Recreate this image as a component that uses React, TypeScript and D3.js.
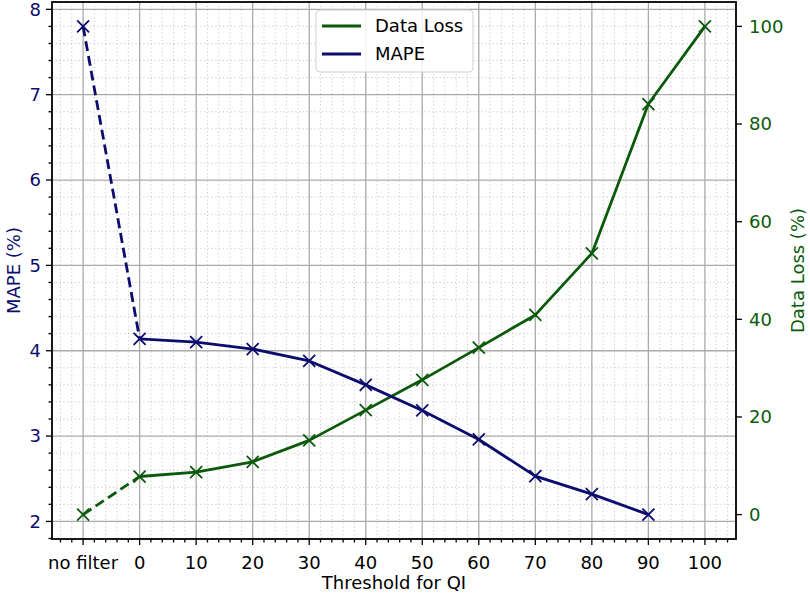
import React, { useEffect, useRef } from 'react'
import * as d3 from 'd3'

const categories = ['no filter', '0', '10', '20', '30', '40', '50', '60', '70', '80', '90', '100']
const mapeValues = [7.8, 4.14, 4.1, 4.02, 3.88, 3.6, 3.3, 2.96, 2.53, 2.32, 2.08]
const dataLossValues = [0, 7.8, 8.7, 10.8, 15.2, 21.4, 27.6, 34.2, 40.9, 53.5, 84.1, 100]
const leftTicks = [2, 3, 4, 5, 6, 7, 8]
const rightTicks = [0, 20, 40, 60, 80, 100]

const MAPE_COLOR = '#0c0c6e'
const LOSS_COLOR = '#0b5a0b'

const App: React.FC = () => {
    const svgRef = useRef<SVGSVGElement | null>(null)

    useEffect(() => {
        document.body.style.margin = '0'
        if (!svgRef.current) return
        const width = 810
        const height = 598
        const left = 52
        const right = 736
        const top = 2
        const bottom = 539

        const svg = d3.select(svgRef.current).attr('width', width).attr('height', height)
        svg.selectAll('*').remove()

        // matplotlib-like 5% margins
        const pad = (lo: number, hi: number): [number, number] => {
            const m = (hi - lo) * 0.05
            return [lo - m, hi + m]
        }
        const x = d3.scaleLinear().domain(pad(0, categories.length - 1)).range([left, right])
        const yL = d3.scaleLinear().domain(pad(d3.min(mapeValues)!, d3.max(mapeValues)!)).range([bottom, top])
        const yR = d3.scaleLinear().domain(pad(d3.min(dataLossValues)!, d3.max(dataLossValues)!)).range([bottom, top])

        const font = 'DejaVu Sans, sans-serif'
        const fs = 18

        // minor grid (0.2 steps)
        const xMinor = d3.range(-0.4, 11.5, 0.2).map((v) => Math.round(v * 10) / 10)
        const yMinor = d3.range(1.8, 8.09, 0.2).map((v) => Math.round(v * 10) / 10)
        const isMajor = (v: number) => Math.abs(v - Math.round(v)) < 0.01
        const grid = svg.append('g')
        grid.selectAll('line.xm')
            .data(xMinor.filter((v) => !isMajor(v)))
            .join('line')
            .attr('x1', (d) => x(d)).attr('x2', (d) => x(d))
            .attr('y1', top).attr('y2', bottom)
            .attr('stroke', '#c4c4c4').attr('stroke-width', 0.9).attr('stroke-dasharray', '1.2,2.6')
        grid.selectAll('line.ym')
            .data(yMinor.filter((v) => !isMajor(v)))
            .join('line')
            .attr('y1', (d) => yL(d)).attr('y2', (d) => yL(d))
            .attr('x1', left).attr('x2', right)
            .attr('stroke', '#c4c4c4').attr('stroke-width', 0.9).attr('stroke-dasharray', '1.2,2.6')
        // major grid
        grid.selectAll('line.xM')
            .data(d3.range(categories.length))
            .join('line')
            .attr('x1', (d) => x(d)).attr('x2', (d) => x(d))
            .attr('y1', top).attr('y2', bottom)
            .attr('stroke', '#aaaaaa').attr('stroke-width', 1.3)
        grid.selectAll('line.yM')
            .data(leftTicks)
            .join('line')
            .attr('y1', (d) => yL(d)).attr('y2', (d) => yL(d))
            .attr('x1', left).attr('x2', right)
            .attr('stroke', '#aaaaaa').attr('stroke-width', 1.3)

        // series
        const drawSeries = (values: number[], y: d3.ScaleLinear<number, number>, color: string) => {
            const g = svg.append('g')
            const line = d3.line<number>().x((_, i) => x(i)).y((d) => y(d))
            // dashed first segment
            g.append('path')
                .attr('d', line(values.slice(0, 2)))
                .attr('fill', 'none').attr('stroke', color).attr('stroke-width', 2.8)
                .attr('stroke-dasharray', '10,5')
            g.append('path')
                .attr('d', d3.line<number>().x((_, i) => x(i + 1)).y((d) => y(d))(values.slice(1)))
                .attr('fill', 'none').attr('stroke', color).attr('stroke-width', 2.8)
                .attr('stroke-linejoin', 'round')
            const s = 6
            g.selectAll('path.mk')
                .data(values)
                .join('path')
                .attr('d', (d, i) => {
                    const cx = x(i), cy = y(d)
                    return `M${cx - s},${cy - s}L${cx + s},${cy + s}M${cx - s},${cy + s}L${cx + s},${cy - s}`
                })
                .attr('stroke', color).attr('stroke-width', 1.8).attr('fill', 'none')
        }
        drawSeries(dataLossValues, yR, LOSS_COLOR)
        drawSeries(mapeValues, yL, MAPE_COLOR)

        // spines
        svg.append('rect')
            .attr('x', left).attr('y', top).attr('width', right - left).attr('height', bottom - top)
            .attr('fill', 'none').attr('stroke', '#000').attr('stroke-width', 1.8)

        // x axis ticks
        const axes = svg.append('g')
        axes.selectAll('line.xt')
            .data(xMinor)
            .join('line')
            .attr('x1', (d) => x(d)).attr('x2', (d) => x(d))
            .attr('y1', bottom)
            .attr('y2', (d) => bottom + (isMajor(d) ? 6 : 3.5))
            .attr('stroke', '#000').attr('stroke-width', 1.3)
        axes.selectAll('text.xl')
            .data(categories)
            .join('text')
            .attr('x', (_, i) => x(i)).attr('y', 569)
            .attr('text-anchor', 'middle')
            .attr('font-family', font).attr('font-size', fs).attr('fill', '#000')
            .text((d) => d)

        // left axis
        axes.selectAll('line.yt')
            .data(yMinor)
            .join('line')
            .attr('y1', (d) => yL(d)).attr('y2', (d) => yL(d))
            .attr('x1', left)
            .attr('x2', (d) => left - (isMajor(d) ? 6 : 3.5))
            .attr('stroke', '#000').attr('stroke-width', 1.3)
        axes.selectAll('text.yl')
            .data(leftTicks)
            .join('text')
            .attr('x', left - 11).attr('y', (d) => yL(d))
            .attr('dy', '0.35em').attr('text-anchor', 'end')
            .attr('font-family', font).attr('font-size', fs).attr('fill', MAPE_COLOR)
            .text((d) => d)

        // right axis
        axes.selectAll('line.rt')
            .data(rightTicks)
            .join('line')
            .attr('y1', (d) => yR(d)).attr('y2', (d) => yR(d))
            .attr('x1', right).attr('x2', right + 6)
            .attr('stroke', '#000').attr('stroke-width', 1.3)
        axes.selectAll('text.rl')
            .data(rightTicks)
            .join('text')
            .attr('x', right + 13).attr('y', (d) => yR(d))
            .attr('dy', '0.35em').attr('text-anchor', 'start')
            .attr('font-family', font).attr('font-size', fs).attr('fill', LOSS_COLOR)
            .text((d) => d)

        // axis titles
        svg.append('text')
            .attr('x', (left + right) / 2).attr('y', 589)
            .attr('text-anchor', 'middle')
            .attr('font-family', font).attr('font-size', fs).attr('fill', '#000')
            .text('Threshold for QI')
        svg.append('text')
            .attr('transform', `translate(20,${(top + bottom) / 2}) rotate(-90)`)
            .attr('text-anchor', 'middle')
            .attr('font-family', font).attr('font-size', fs).attr('fill', MAPE_COLOR)
            .text('MAPE (%)')
        svg.append('text')
            .attr('transform', `translate(804,${(top + bottom) / 2}) rotate(-90)`)
            .attr('text-anchor', 'middle')
            .attr('font-family', font).attr('font-size', fs).attr('fill', LOSS_COLOR)
            .text('Data Loss (%)')

        // legend
        const lg = svg.append('g').attr('transform', 'translate(316,10)')
        lg.append('rect')
            .attr('width', 157).attr('height', 62).attr('rx', 4)
            .attr('fill', 'rgba(255,255,255,0.85)').attr('stroke', '#d0d0d0').attr('stroke-width', 1)
        const items = [
            { label: 'Data Loss', color: LOSS_COLOR },
            { label: 'MAPE', color: MAPE_COLOR },
        ]
        items.forEach((it, i) => {
            const yy = 16 + i * 28
            lg.append('line')
                .attr('x1', 6).attr('x2', 45).attr('y1', yy).attr('y2', yy)
                .attr('stroke', it.color).attr('stroke-width', 2.8)
            lg.append('text')
                .attr('x', 59).attr('y', yy).attr('dy', '0.35em')
                .attr('font-family', font).attr('font-size', fs).attr('fill', '#000')
                .text(it.label)
        })
    }, [])

    return <svg ref={svgRef} style={{ display: 'block' }}></svg>
}

export default App
